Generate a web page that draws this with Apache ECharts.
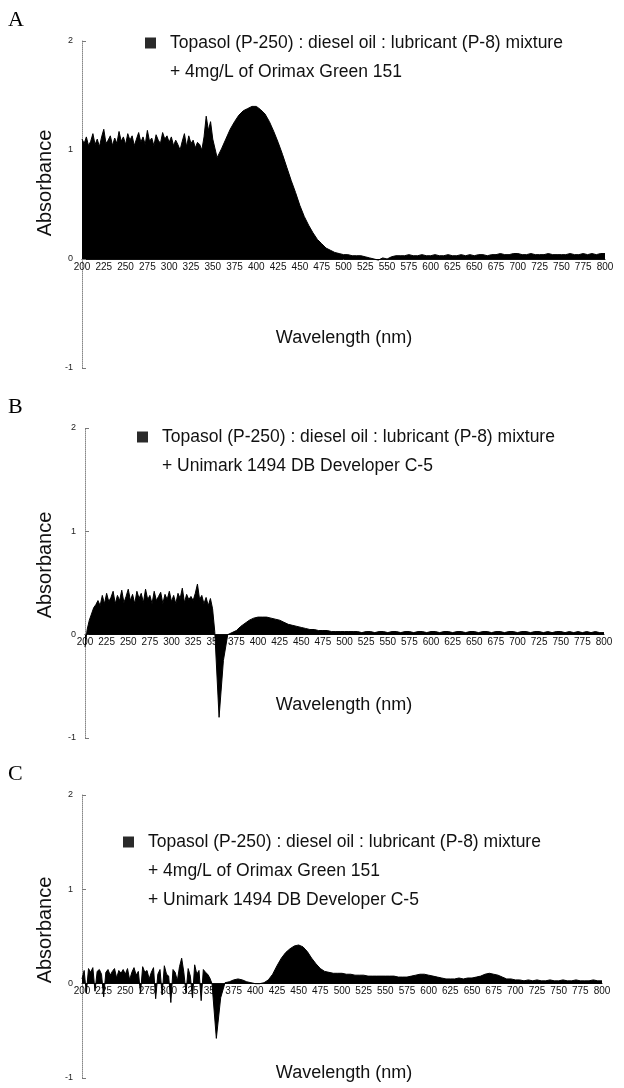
<!DOCTYPE html>
<html>
<head>
<meta charset="utf-8">
<title>Absorbance spectra</title>
<script src="https://cdn.jsdelivr.net/npm/echarts@6/dist/echarts.min.js"></script>
<style>
  html, body { margin: 0; padding: 0; background: #fff; }
  #chart { width: 624px; height: 1088px; }
</style>
</head>
<body>
<div id="chart"></div>
<script>
// sampling: noisy part 200-350 nm every 2.5 nm, rest 355-800 nm every 5 nm
var noiseStart = 200, noiseStep = 2.5;
var smoothStart = 355, smoothStep = 5;

// A: mixture + 4mg/L Orimax Green 151
var noiseA = [
  1.10, 1.06, 1.12, 1.04, 1.08, 1.15, 1.05, 1.10, 1.03, 1.12,
  1.19, 1.06, 1.09, 1.13, 1.04, 1.11, 1.06, 1.17, 1.08, 1.12,
  1.05, 1.15, 1.09, 1.13, 1.04, 1.10, 1.16, 1.07, 1.12, 1.05,
  1.18, 1.08, 1.11, 1.04, 1.14, 1.09, 1.06, 1.16, 1.10, 1.13,
  1.07, 1.12, 1.04, 1.09, 1.05, 1.00, 1.08, 1.15, 1.03, 1.13,
  1.06, 1.09, 1.02, 1.07, 1.05, 1.00, 1.12, 1.31, 1.18, 1.26,
  1.10
];
var smoothA = [
  0.93, 1.01, 1.10, 1.19, 1.26, 1.32, 1.36, 1.38, 1.40,
  1.40, 1.37, 1.33, 1.26, 1.17, 1.07, 0.96, 0.84, 0.72, 0.61,
  0.49, 0.39, 0.31, 0.24, 0.18, 0.14, 0.10, 0.08, 0.06, 0.05,
  0.04, 0.04, 0.03, 0.03, 0.03, 0.02, 0.01, 0.00, -0.01, 0.01,
  0.00, 0.02, 0.03, 0.03, 0.03, 0.04, 0.03, 0.03, 0.04, 0.03,
  0.03, 0.04, 0.03, 0.03, 0.04, 0.03, 0.03, 0.04, 0.03, 0.04,
  0.03, 0.04, 0.04, 0.03, 0.04, 0.04, 0.05, 0.04, 0.04, 0.05,
  0.05, 0.04, 0.04, 0.05, 0.04, 0.04, 0.04, 0.05, 0.04, 0.04,
  0.04, 0.04, 0.05, 0.04, 0.04, 0.05, 0.04, 0.05, 0.04, 0.05,
  0.05
];

// B: mixture + Unimark 1494 DB Developer C-5
var noiseB = [
  -0.12, 0.05, 0.14, 0.20, 0.26, 0.29, 0.33, 0.28, 0.38, 0.30,
  0.40, 0.32, 0.36, 0.42, 0.30, 0.38, 0.33, 0.43, 0.31, 0.37,
  0.44, 0.33, 0.39, 0.30, 0.42, 0.35, 0.40, 0.31, 0.44, 0.34,
  0.38, 0.30, 0.42, 0.33, 0.37, 0.41, 0.30, 0.39, 0.34, 0.42,
  0.32, 0.38, 0.30, 0.40, 0.35, 0.45, 0.31, 0.39, 0.34, 0.37,
  0.33, 0.40, 0.49, 0.34, 0.38, 0.30, 0.36, 0.28, 0.35, 0.25,
  0.03
];
var smoothB = [
  -0.80, -0.25, 0.00, 0.02, 0.04, 0.08, 0.11, 0.14, 0.16,
  0.17, 0.17, 0.17, 0.16, 0.15, 0.14, 0.12, 0.10, 0.09, 0.08,
  0.07, 0.06, 0.05, 0.05, 0.04, 0.04, 0.04, 0.03, 0.03, 0.03,
  0.03, 0.03, 0.03, 0.03, 0.02, 0.03, 0.03, 0.02, 0.03, 0.03,
  0.02, 0.03, 0.03, 0.02, 0.03, 0.03, 0.02, 0.03, 0.03, 0.02,
  0.03, 0.03, 0.02, 0.03, 0.03, 0.02, 0.03, 0.03, 0.02, 0.03,
  0.03, 0.02, 0.03, 0.03, 0.02, 0.03, 0.03, 0.02, 0.03, 0.03,
  0.02, 0.03, 0.03, 0.02, 0.03, 0.03, 0.02, 0.03, 0.02, 0.03,
  0.03, 0.02, 0.03, 0.02, 0.03, 0.02, 0.03, 0.02, 0.03, 0.02,
  0.02
];

// C: mixture + Orimax Green 151 + Unimark 1494 DB Developer C-5
var noiseC = [
  0.05, 0.14, -0.10, 0.16, 0.12, 0.17, -0.08, 0.13, 0.15, 0.10,
  -0.14, 0.12, 0.15, 0.09, 0.13, 0.16, 0.06, 0.14, 0.11, 0.15,
  0.10, 0.16, 0.04, 0.12, 0.17, 0.09, 0.13, -0.10, 0.18, 0.12,
  0.14, 0.05, 0.12, 0.17, -0.16, 0.10, 0.15, -0.12, 0.19, 0.10,
  0.08, -0.20, 0.15, 0.12, 0.03, 0.18, 0.27, 0.12, -0.10, 0.16,
  0.08, -0.15, 0.20, 0.10, 0.14, -0.18, 0.15, 0.12, 0.10, 0.06,
  0.00
];
var smoothC = [
  -0.58, -0.15, 0.01, 0.02, 0.04, 0.05, 0.04, 0.02, 0.01,
  0.00, 0.00, 0.01, 0.04, 0.10, 0.19, 0.27, 0.33, 0.37, 0.40,
  0.41, 0.39, 0.34, 0.27, 0.21, 0.16, 0.13, 0.12, 0.11, 0.11,
  0.11, 0.10, 0.10, 0.09, 0.09, 0.09, 0.08, 0.08, 0.08, 0.08,
  0.08, 0.08, 0.08, 0.07, 0.07, 0.07, 0.08, 0.09, 0.10, 0.10,
  0.09, 0.08, 0.07, 0.06, 0.05, 0.05, 0.05, 0.06, 0.05, 0.06,
  0.06, 0.07, 0.08, 0.10, 0.11, 0.10, 0.09, 0.07, 0.05, 0.05,
  0.04, 0.04, 0.03, 0.04, 0.03, 0.04, 0.03, 0.03, 0.04, 0.03,
  0.03, 0.04, 0.03, 0.03, 0.04, 0.03, 0.03, 0.03, 0.04, 0.03,
  0.03
];

var mixName = 'Topasol (P-250) : diesel oil : lubricant (P-8) mixture';
var extraLinesA = ['+ 4mg/L of Orimax Green 151'];
var extraLinesB = ['+ Unimark 1494 DB Developer C-5'];
var extraLinesC = ['+ 4mg/L of Orimax Green 151', '+ Unimark 1494 DB Developer C-5'];

var sansFont = "'Liberation Sans', Arial, sans-serif";

spectra = {
    init: function () {
        spectra.chart = echarts.init(document.getElementById('chart'));
        // grid box spans absorbance 2 .. -1 in every panel
        spectra.panels = [
            { letter: 'A', noise: noiseA, smooth: smoothA, lines: extraLinesA,
              left: 82, right: 19, top: 41, height: 327,
              legendX: 145, legendY: 43, nameY: 183, wlY: 338 },
            { letter: 'B', noise: noiseB, smooth: smoothB, lines: extraLinesB,
              left: 85, right: 20, top: 428, height: 310,
              legendX: 137, legendY: 437, nameY: 565, wlY: 705 },
            { letter: 'C', noise: noiseC, smooth: smoothC, lines: extraLinesC,
              left: 82, right: 22, top: 795, height: 283,
              legendX: 123, legendY: 842, nameY: 930, wlY: 1073 }
        ];
        spectra.draw();
    },
    toPairs: function (noise, smooth) {
        var out = [];
        for (var i = 0; i < noise.length; i++) {
            out.push([noiseStart + i * noiseStep, noise[i]]);
        }
        for (var j = 0; j < smooth.length; j++) {
            out.push([smoothStart + j * smoothStep, smooth[j]]);
        }
        return out;
    },
    draw: function () {
        var grids = [], xAxes = [], yAxes = [], series = [], legends = [], texts = [];
        spectra.panels.forEach(function (p, i) {
            grids.push({ left: p.left, right: p.right, top: p.top, height: p.height });
            // x axis sits on absorbance 0, i.e. one third up from the bottom
            xAxes.push({
                type: 'value', gridIndex: i, min: 200, max: 800, interval: 25,
                position: 'bottom', offset: -p.height / 3,
                axisLine: { onZero: false, lineStyle: { color: '#111', width: 1 } },
                axisTick: { show: false },
                splitLine: { show: false },
                axisLabel: { color: '#111', fontSize: 10, fontFamily: sansFont, margin: 3 }
            });
            yAxes.push({
                type: 'value', gridIndex: i, min: -1, max: 2, interval: 1,
                axisLine: { show: true, onZero: false, lineStyle: { color: '#888', type: 'dotted', width: 1 } },
                axisTick: { show: true, inside: true, length: 4, lineStyle: { color: '#777' } },
                splitLine: { show: false },
                axisLabel: { color: '#222', fontSize: 9, fontFamily: sansFont, margin: 9 }
            });
            series.push({
                name: mixName, type: 'line', xAxisIndex: i, yAxisIndex: i,
                data: spectra.toPairs(p.noise, p.smooth),
                showSymbol: false,
                lineStyle: { color: '#000', width: 1 },
                itemStyle: { color: '#2a2a2a' },
                areaStyle: { color: '#000', opacity: 1 }
            });
            legends.push({
                left: p.legendX, top: p.legendY - 9, padding: 0, data: [mixName],
                icon: 'rect', itemWidth: 11, itemHeight: 11, itemGap: 0,
                textStyle: { fontSize: 17.5, lineHeight: 18, fontFamily: sansFont, color: '#111', padding: [0, 0, 0, 9] },
                selectedMode: false
            });
            // panel letter
            texts.push({ type: 'text', x: 8, y: p.top - 21,
                style: { text: p.letter, x: 0, y: 0, font: '22px "Liberation Serif", serif', fill: '#000',
                    textVerticalAlign: 'middle' } });
            // further legend lines
            p.lines.forEach(function (t, k) {
                texts.push({ type: 'text', x: p.legendX + 25, y: p.legendY + 29 * (k + 1),
                    style: { text: t, x: 0, y: 0, font: '17.5px ' + sansFont, fill: '#111',
                        textVerticalAlign: 'middle' } });
            });
            // axis titles
            texts.push({ type: 'text', x: 45, y: p.nameY, rotation: Math.PI / 2,
                style: { text: 'Absorbance', x: 0, y: 0, font: '20px ' + sansFont, fill: '#111',
                    textAlign: 'center', textVerticalAlign: 'middle' } });
            texts.push({ type: 'text', x: 344, y: p.wlY,
                style: { text: 'Wavelength (nm)', x: 0, y: 0, font: '18px ' + sansFont, fill: '#111',
                    textAlign: 'center', textVerticalAlign: 'middle' } });
        });

        spectra.chart.setOption({
            backgroundColor: '#fff',
            animation: false,
            grid: grids,
            xAxis: xAxes,
            yAxis: yAxes,
            legend: legends,
            series: series,
            graphic: texts
        });
    }
};

spectra.init();
</script>
</body>
</html>
